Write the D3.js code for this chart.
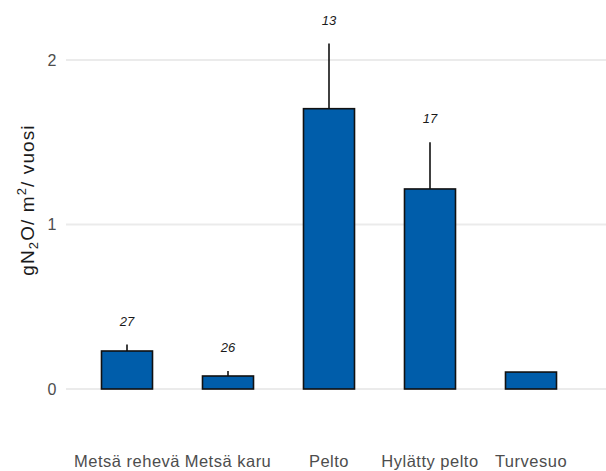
<!DOCTYPE html>
<html><head><meta charset="utf-8">
<script src="https://cdn.jsdelivr.net/npm/d3@7"></script>
<style>
html,body{margin:0;padding:0;background:#fff;}
svg{display:block;font-family:"Liberation Sans",Arial,sans-serif;}
</style></head>
<body>
<svg id="chart" width="606" height="471"></svg>
<script>
const categories = ["Metsä rehevä","Metsä karu","Pelto","Hylätty pelto","Turvesuo"];
const means = [0.231, 0.079, 1.704, 1.216, 0.103];
const errorTops = [0.27, 0.11, 2.10, 1.50, null];
const nLabels = ["27","26","13","17",""];
const yTicks = [0, 1, 2];

const svg = d3.select("#chart");
const x = d3.scaleBand().domain(categories).range([76.5, 581.5]).paddingInner(0.495).paddingOuter(0.2475);
const y = d3.scaleLinear().domain([0, 2.2]).range([389, 27.1]);

// gridlines
svg.append("g").selectAll("line").data(yTicks).join("line")
  .attr("x1", 66).attr("x2", 606)
  .attr("y1", d => y(d)).attr("y2", d => y(d))
  .attr("stroke", "#ebebeb").attr("stroke-width", 2);

// y tick labels
svg.append("g").selectAll("text").data(yTicks).join("text")
  .attr("x", 52).attr("y", d => y(d)).attr("dy", "0.36em")
  .attr("text-anchor", "middle").attr("fill", "#4d4d4d")
  .attr("font-size", 16).text(d => d);

// error bars
const idx = d3.range(categories.length);
svg.append("g").selectAll("line").data(idx.filter(i => errorTops[i] != null)).join("line")
  .attr("x1", i => x(categories[i]) + x.bandwidth()/2)
  .attr("x2", i => x(categories[i]) + x.bandwidth()/2)
  .attr("y1", i => y(means[i])).attr("y2", i => y(errorTops[i]))
  .attr("stroke", "#111").attr("stroke-width", 1.6);

// bars
svg.append("g").selectAll("rect").data(idx).join("rect")
  .attr("x", i => x(categories[i]))
  .attr("width", x.bandwidth())
  .attr("y", i => y(means[i]))
  .attr("height", i => y(0) - y(means[i]))
  .attr("fill", "#005DAA").attr("stroke", "#111").attr("stroke-width", 1.6);

// n labels
svg.append("g").selectAll("text").data(idx.filter(i => nLabels[i] !== "")).join("text")
  .attr("x", i => x(categories[i]) + x.bandwidth()/2)
  .attr("y", i => y(errorTops[i]) - 19)
  .attr("text-anchor", "middle").attr("font-style", "italic")
  .attr("font-size", 13).attr("fill", "#1a1a1a").text(i => nLabels[i]);

// x labels
svg.append("g").selectAll("text").data(categories).join("text")
  .attr("x", d => x(d) + x.bandwidth()/2).attr("y", 467)
  .attr("text-anchor", "middle").attr("fill", "#4d4d4d")
  .attr("font-size", 16.5).attr("letter-spacing", 0.5).text(d => d);

// y title
const t = svg.append("text")
  .attr("transform", "translate(34,200) rotate(-90)")
  .attr("text-anchor", "middle").attr("font-size", 19).attr("fill", "#1a1a1a")
  .attr("letter-spacing", 1.1);
t.append("tspan").text("gN");
t.append("tspan").attr("font-size", 13).attr("dy", 4).text("2");
t.append("tspan").attr("dy", -4).text("O/ m");
t.append("tspan").attr("font-size", 13).attr("dy", -8).text("2");
t.append("tspan").attr("dy", 8).text("/ vuosi");
</script>
</body></html>
